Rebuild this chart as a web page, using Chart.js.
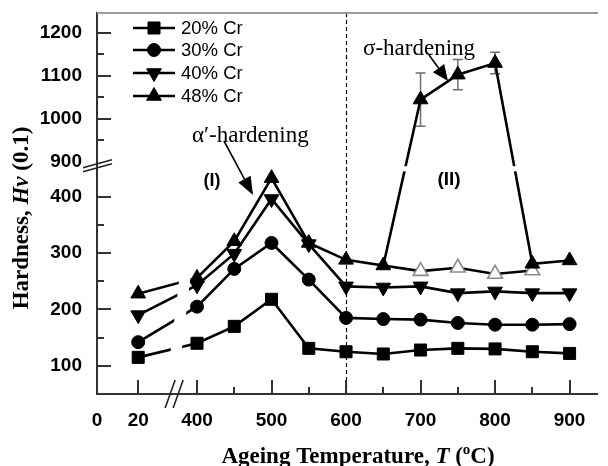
<!DOCTYPE html>
<html><head><meta charset="utf-8">
<script src="https://cdn.jsdelivr.net/npm/chart.js@4.4.1/dist/chart.umd.min.js"></script>
<style>html,body{margin:0;padding:0;background:#fff;} canvas{display:block;}</style>
</head><body>
<canvas id="c" width="608" height="466"></canvas>
<script>
// ---------------- data ----------------
const temps = [20, 400, 450, 500, 550, 600, 650, 700, 750, 800, 850, 900];
const cr20 = [115, 140, 170, 218, 131, 125, 121, 128, 131, 130, 125, 122];
const cr30 = [142, 205, 272, 318, 253, 185, 183, 182, 176, 173, 173, 174];
const cr40 = [190, 243, 299, 396, 316, 241, 239, 241, 229, 232, 229, 229];
const cr48 = [228, 256, 321, 433, 318, 288, 278, 1045, 1103, 1130, 281, 287];
const err48 = [0, 0, 0, 0, 0, 0, 0, 62, 35, 25, 0, 0];
const openTemps = [650, 700, 750, 800, 850];
const openCr48 = [278, 268, 274, 263, 269];
const seriesLabels = ['20% Cr', '30% Cr', '40% Cr', '48% Cr'];
const xTickValues = [0, 20, 400, 450, 500, 550, 600, 650, 700, 750, 800, 850, 900];
const xMajor = [20, 400, 500, 600, 700, 800, 900];
const xLabelled = [0, 20, 400, 500, 600, 700, 800, 900];
const yTickValues = [100, 150, 200, 250, 300, 350, 400, 900, 950, 1000, 1050, 1100, 1150, 1200];
const yMajor = [100, 200, 300, 400, 1000, 1100, 1200];
const yLabelled = [100, 200, 300, 400, 900, 1000, 1100, 1200];
const dividerT = 600;

// ---------------- broken-axis scale ----------------
const X_BREAK = 368;   // position of the x-axis break (scale units)
const AXIS_MAP = {
  x: { min: 265.8, max: 938, f: t => (t >= 200 ? t : 321.1 + (t - 20) * 2.763) },
  y: { min: 50, max: 726, f: v => (v <= 650 ? v : 462 + (v - 900) * 0.7617) }
};
class BrokenScale extends Chart.LinearScale {
  determineDataLimits() { const m = AXIS_MAP[this.axis]; this.min = m.min; this.max = m.max; }
  buildTicks() { const vals = this.axis === 'x' ? xTickValues : yTickValues; return vals.map(v => ({ value: v })); }
  getPixelForValue(v) {
    if (v === null || v === undefined || isNaN(v)) return NaN;
    return super.getPixelForValue(AXIS_MAP[this.axis].f(v));
  }
}
BrokenScale.id = 'broken';
BrokenScale.defaults = {};
Chart.register(BrokenScale);

// ---------------- datasets ----------------
const styles = [
  { ps: 'rect', rot: 0, r: 8.5 },
  { ps: 'circle', rot: 0, r: 6.5 },
  { ps: 'triangle', rot: 180, r: 8.5 },
  { ps: 'triangle', rot: 0, r: 8.5 }
];
const seriesVals = [cr20, cr30, cr40, cr48];
const datasets = seriesVals.map((vals, i) => ({
  label: seriesLabels[i],
  data: temps.map((t, k) => ({ x: t, y: vals[k] })),
  borderColor: '#000', backgroundColor: '#000', borderWidth: 2.6,
  pointStyle: styles[i].ps, pointRotation: styles[i].rot, pointRadius: styles[i].r,
  pointBackgroundColor: '#000', pointBorderColor: '#000', pointBorderWidth: 1,
  tension: 0, fill: false
}));
datasets.push({
  label: '',
  data: openTemps.map((t, k) => ({ x: t, y: openCr48[k] })),
  borderColor: '#000', borderWidth: 2.6,
  pointStyle: 'triangle', pointRadius: openTemps.map((t, k) => (k === 0 ? 0 : 8.5)),
  pointBackgroundColor: '#fff', pointBorderColor: '#8a8a8a', pointBorderWidth: 1.6,
  tension: 0, fill: false
});

// ---------------- decorations ----------------
function mixedText(ctx, parts, cx, y) {
  let total = 0;
  parts.forEach(p => { ctx.font = p.font; p.w = ctx.measureText(p.t).width; total += p.w; });
  let x = cx - total / 2;
  ctx.textAlign = 'left'; ctx.textBaseline = 'alphabetic';
  parts.forEach(p => { ctx.font = p.font; ctx.fillText(p.t, x, y - (p.dy || 0)); x += p.w; });
}
function arrow(ctx, x1, y1, x2, y2, len, hw) {
  const a = Math.atan2(y2 - y1, x2 - x1);
  const bx = x2 - Math.cos(a) * len, by = y2 - Math.sin(a) * len;
  ctx.beginPath(); ctx.moveTo(x1, y1); ctx.lineTo(bx, by); ctx.lineWidth = 1.6; ctx.strokeStyle = '#000'; ctx.stroke();
  ctx.beginPath(); ctx.moveTo(x2, y2);
  ctx.lineTo(bx + Math.sin(a) * hw, by - Math.cos(a) * hw);
  ctx.lineTo(bx - Math.sin(a) * hw, by + Math.cos(a) * hw);
  ctx.closePath(); ctx.fillStyle = '#000'; ctx.fill();
}
const decor = {
  id: 'decor',
  beforeDatasetsDraw(chart) {
    const ctx = chart.ctx, xs = chart.scales.x, ys = chart.scales.y, ca = chart.chartArea;
    ctx.save();
    // divider line
    const dx = Math.round(xs.getPixelForValue(dividerT)) + 0.5;
    ctx.setLineDash([4, 3]); ctx.lineWidth = 1.2; ctx.strokeStyle = '#000';
    ctx.beginPath(); ctx.moveTo(dx, ca.top); ctx.lineTo(dx, ca.bottom); ctx.stroke();
    ctx.setLineDash([]);
    // error bars
    ctx.strokeStyle = '#6e6e6e'; ctx.lineWidth = 1.5;
    temps.forEach((t, k) => {
      if (!err48[k]) return;
      const px = xs.getPixelForValue(t);
      const y1 = ys.getPixelForValue(cr48[k] - err48[k]), y2 = ys.getPixelForValue(cr48[k] + err48[k]);
      ctx.beginPath();
      ctx.moveTo(px, y1); ctx.lineTo(px, y2);
      ctx.moveTo(px - 5, y1); ctx.lineTo(px + 5, y1);
      ctx.moveTo(px - 5, y2); ctx.lineTo(px + 5, y2);
      ctx.stroke();
    });
    ctx.restore();
  },
  afterDatasetsDraw(chart) {
    const ctx = chart.ctx, xs = chart.scales.x, ys = chart.scales.y, ca = chart.chartArea;
    ctx.save();
    ctx.fillStyle = '#fff';
    // gap in lines at x-axis break (slanted, parallel to the break marks)
    const xb = xs.getPixelForValue(X_BREAK);
    const yt = ys.getPixelForValue(420), ybt = ys.getPixelForValue(60);
    ctx.beginPath();
    ctx.moveTo(xb - 7, ybt); ctx.lineTo(xb + 4, ybt);
    ctx.lineTo(xb + 4 + (ybt - yt) * 0.12, yt); ctx.lineTo(xb - 7 + (ybt - yt) * 0.12, yt);
    ctx.closePath(); ctx.fill();
    // gap in lines at y-axis break
    const yb1 = ys.getPixelForValue(880), yb2 = ys.getPixelForValue(440);
    ctx.fillRect(xs.getPixelForValue(625), yb1 + 1, xs.getPixelForValue(875) - xs.getPixelForValue(625), (yb2 - yb1) - 9);
    ctx.restore();
  },
  afterDraw(chart) {
    const ctx = chart.ctx, xs = chart.scales.x, ys = chart.scales.y, ca = chart.chartArea;
    ctx.save();
    // top frame line
    ctx.strokeStyle = '#9a9a9a'; ctx.lineWidth = 2;
    ctx.beginPath(); ctx.moveTo(ca.left, ca.top); ctx.lineTo(ca.right, ca.top); ctx.stroke();
    // ticks (inward)
    ctx.strokeStyle = '#333'; ctx.lineWidth = 2;
    xTickValues.forEach(v => {
      if (v === 0) return;
      const p = Math.round(xs.getPixelForValue(v));
      const L = xMajor.includes(v) ? 14 : 7;
      ctx.beginPath(); ctx.moveTo(p, ca.bottom); ctx.lineTo(p, ca.bottom - L); ctx.stroke();
    });
    yTickValues.forEach(v => {
      if (v === 900) return;
      const p = Math.round(ys.getPixelForValue(v));
      const L = yMajor.includes(v) ? 14 : 7;
      ctx.beginPath(); ctx.moveTo(ca.left, p); ctx.lineTo(ca.left + L, p); ctx.stroke();
    });
    // break marks
    ctx.lineWidth = 1.6; ctx.strokeStyle = '#222';
    const yb = ys.getPixelForValue(900);
    ctx.beginPath();
    ctx.moveTo(ca.left - 14, yb + 6); ctx.lineTo(ca.left + 15, yb - 2);
    ctx.moveTo(ca.left - 14, yb + 10); ctx.lineTo(ca.left + 15, yb + 2);
    ctx.stroke();
    const xb = xs.getPixelForValue(X_BREAK);
    ctx.beginPath();
    ctx.moveTo(xb - 8, ca.bottom + 14); ctx.lineTo(xb + 2, ca.bottom - 14);
    ctx.moveTo(xb, ca.bottom + 14); ctx.lineTo(xb + 10, ca.bottom - 14);
    ctx.stroke();
    // legend
    const rows = [28, 50, 73, 96];
    ctx.textAlign = 'left'; ctx.textBaseline = 'middle';
    seriesLabels.forEach((lab, i) => {
      const y = rows[i];
      ctx.strokeStyle = '#000'; ctx.lineWidth = 2.6;
      ctx.beginPath(); ctx.moveTo(133, y); ctx.lineTo(175, y); ctx.stroke();
      ctx.fillStyle = '#000'; ctx.lineWidth = 1;
      Chart.helpers.drawPoint(ctx, { pointStyle: styles[i].ps, rotation: styles[i].rot, radius: styles[i].r, borderWidth: 1 }, 154, y);
      ctx.fillStyle = '#000'; ctx.font = '18.5px "Liberation Sans", Arial, sans-serif';
      ctx.fillText(lab, 181, y + 1);
    });
    // annotations
    ctx.fillStyle = '#000';
    ctx.font = '23px "Liberation Serif", "Times New Roman", serif';
    ctx.textAlign = 'left'; ctx.textBaseline = 'alphabetic';
    ctx.fillText('\u03B1\u2032-hardening', 192, 142);
    ctx.fillText('\u03C3-hardening', 363, 55);
    ctx.font = 'bold 18px "Liberation Sans", Arial, sans-serif';
    ctx.textAlign = 'center'; ctx.textBaseline = 'middle';
    ctx.fillText('(I)', 212, 181);
    ctx.font = 'bold 19px "Liberation Sans", Arial, sans-serif';
    ctx.fillText('(II)', 449, 180);
    arrow(ctx, 224, 141, 253, 195, 18, 7);
    arrow(ctx, 429, 55, 448, 81, 16, 7);
    // axis titles
    const B = 'bold 23px "Liberation Serif", "Times New Roman", serif';
    const BI = 'italic bold 23px "Liberation Serif", "Times New Roman", serif';
    const SUP = 'bold 15px "Liberation Serif", "Times New Roman", serif';
    ctx.fillStyle = '#000';
    mixedText(ctx, [
      { t: 'Ageing Temperature, ', font: B }, { t: 'T', font: BI }, { t: ' (', font: B },
      { t: 'o', font: SUP, dy: 9 }, { t: 'C)', font: B }
    ], 358, 463);
    ctx.save();
    ctx.translate(28, 218); ctx.rotate(-Math.PI / 2);
    mixedText(ctx, [{ t: 'Hardness, ', font: B }, { t: 'Hv', font: BI }, { t: ' (0.1)', font: B }], 0, 0);
    ctx.restore();
    ctx.restore();
  }
};

const tickFont = { family: '"Liberation Sans", Arial, sans-serif', size: 19, weight: 'bold' };
new Chart(document.getElementById('c'), {
  type: 'line',
  data: { datasets },
  options: {
    responsive: false, animation: false, events: [],
    layout: { padding: { top: 13, right: 0, left: 0, bottom: 0 } },
    plugins: { legend: { display: false }, tooltip: { enabled: false } },
    scales: {
      x: {
        type: 'broken', position: 'bottom',
        grid: { display: false, drawTicks: false },
        border: { display: true, color: '#333', width: 2 },
        ticks: {
          autoSkip: false, maxRotation: 0, padding: 15, color: '#000', font: tickFont,
          callback: v => (xLabelled.includes(v) ? String(v) : '')
        },
        afterFit: s => { s.height = 72; s.paddingLeft = 0; s.paddingRight = 0; s.paddingTop = 0; s.paddingBottom = 0; }
      },
      y: {
        type: 'broken', position: 'left',
        grid: { display: false, drawTicks: false },
        border: { display: true, color: '#333', width: 2 },
        ticks: {
          autoSkip: false, padding: 15, color: '#000', font: tickFont,
          callback: v => (yLabelled.includes(v) ? String(v) : '')
        },
        afterFit: s => { s.width = 97; s.paddingLeft = 0; s.paddingRight = 0; s.paddingTop = 0; s.paddingBottom = 0; }
      }
    }
  },
  plugins: [decor]
});
</script>
</body></html>
